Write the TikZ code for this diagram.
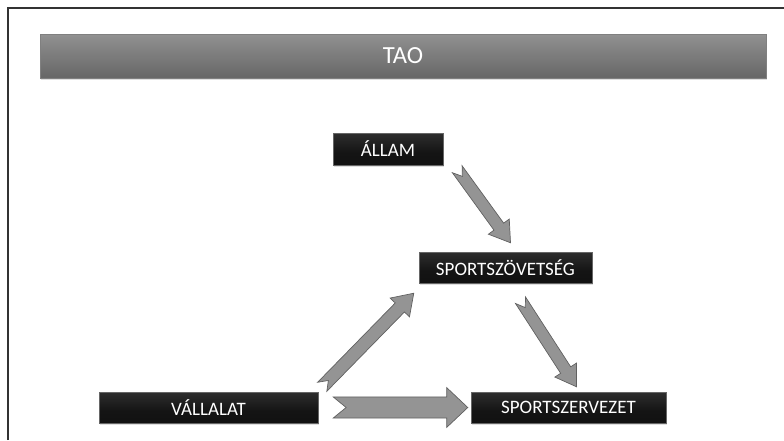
\documentclass[tikz,border=0pt]{standalone}
\usepackage{fontspec}
\setmainfont{Carlito}
\usetikzlibrary{calc,shadows}
\newcommand\px{0.03cm}
\pgfdeclareverticalshading{glossy}{100bp}{color(0bp)=(black!95); color(45bp)=(black!92); color(75bp)=(black!82); color(100bp)=(black!50)}
\pgfdeclareverticalshading{bannershade}{100bp}{color(0bp)=(black!68); color(70bp)=(black!45); color(90bp)=(black!35); color(100bp)=(black!15)}
\tikzset{
  box/.style={draw=black!60, shading=glossy, text=white, font=\fontsize{16.2}{19}\selectfont,
    minimum height=31*\px, inner sep=0pt,
    drop shadow={opacity=0.25, shadow xshift=1pt, shadow yshift=-1.5pt}},
  banner/.style={draw=black!50, shading=bannershade, text=white, font=\fontsize{21}{24}\selectfont,
    inner sep=0pt, drop shadow={opacity=0.25, shadow xshift=1pt, shadow yshift=-1.5pt}},
  blockarr/.style={fill=black!42, draw=black!62, line width=0.6pt, line join=miter}
}
% from, to, half shaft, half head, head length, notch depth
\newcommand\blockarrow[6]{%
  \coordinate (hb) at ($(#2)!#5!(#1)$);
  \coordinate (tn) at ($(#1)!#6!(#2)$);
  \draw[blockarr] ($(#1)!#3!90:(#2)$) -- ($(hb)!#3!90:(#2)$) -- ($(hb)!#4!90:(#2)$) -- (#2)
    -- ($(hb)!#4!-90:(#2)$) -- ($(hb)!#3!-90:(#2)$) -- ($(#1)!#3!-90:(#2)$) -- (tn) -- cycle;
}
\begin{document}
\begin{tikzpicture}[x=\px,y=-\px]
\useasboundingbox (0,0) rectangle (784,440);
\draw[black!80, line width=1.5pt] (8,440) -- (8,8) -- (784,8);
\node[banner, minimum width=726*\px, minimum height=44*\px] (tao) at (403,56) {TAO};
\node[box, minimum width=110*\px, minimum height=32*\px] (allam) at (388,149) {ÁLLAM};
\node[box, minimum width=173*\px] (szov) at (505.5,267.5) {SPORTSZÖVETSÉG};
\node[box, minimum width=219*\px] (vall) at (208.5,407.5) {VÁLLALAT};
\node[box, minimum width=195*\px] (szerv) at (568.5,407.5) {SPORTSZERVEZET};
\coordinate (a1) at ($(allam.south east)+(14,4)$);
\coordinate (b1) at ($(szov.north)+(5,-9)$);
\coordinate (a2) at ($(vall.north east)+(4,-5)$);
\coordinate (b2) at ($(szov.south west)+(-5,10)$);
\coordinate (a3) at ($(szov.south)+(15,17)$);
\coordinate (b3) at ($(szerv.north)+(8,-5)$);
\coordinate (a4) at ($(vall.east)+(15,0)$);
\coordinate (b4) at ($(szerv.west)+(-3,0)$);
\blockarrow{a1}{b1}{5.1pt}{11pt}{17pt}{7.5pt}
\blockarrow{a2}{b2}{5.5pt}{11.5pt}{17pt}{7.5pt}
\blockarrow{a3}{b3}{5.1pt}{11pt}{17pt}{7.5pt}
\blockarrow{a4}{b4}{9pt}{17pt}{18pt}{11pt}
\end{tikzpicture}
\end{document}
